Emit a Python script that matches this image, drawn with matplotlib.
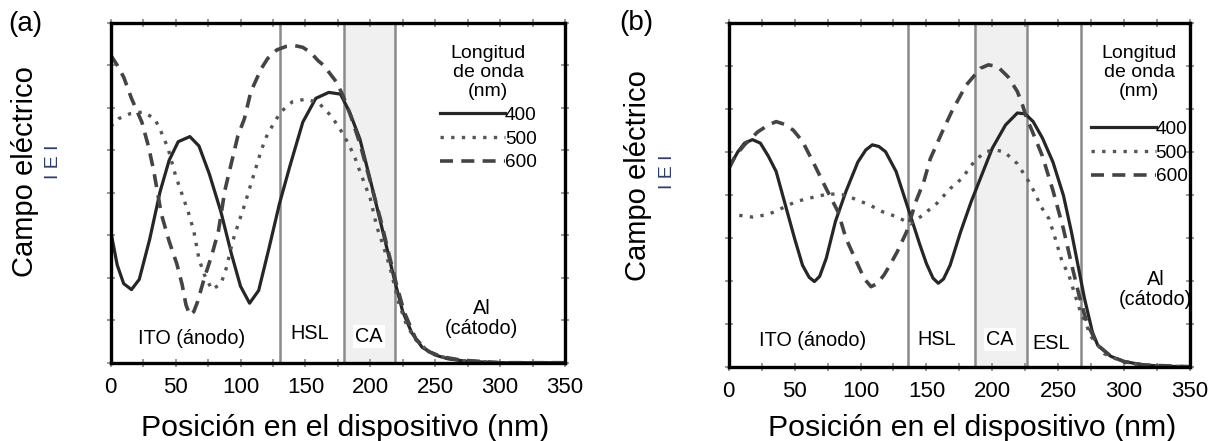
import matplotlib
matplotlib.use("Agg")
import matplotlib.pyplot as plt
from matplotlib.ticker import MultipleLocator, NullFormatter

plt.rcParams['font.family'] = ['Liberation Sans', 'DejaVu Sans']

# ---------------- data: panel (a) ----------------
a400_x = [0, 5, 10, 16, 22, 30, 38, 45, 52, 61, 68, 76, 85, 93, 100, 107, 114, 122, 130, 138,
          148, 158, 168, 177, 184, 192, 200, 207, 214, 219, 225, 232, 240, 250, 260, 275, 300, 350]
a400_y = [1.55, 1.15, 0.93, 0.86, 0.98, 1.45, 2.01, 2.38, 2.6, 2.66, 2.55, 2.22, 1.77, 1.28, 0.9,
          0.70, 0.85, 1.35, 1.87, 2.31, 2.83, 3.11, 3.18, 3.16, 2.95, 2.63, 2.15, 1.71, 1.27, 0.95,
          0.6, 0.35, 0.18, 0.09, 0.045, 0.015, 0.0, 0.0]

a500_x = [0, 6, 15, 25, 34, 39, 44, 50, 55, 60, 64, 68, 72, 78, 85, 89, 94, 98, 103, 108, 112,
          116, 120, 125, 131, 140, 150, 160, 170, 177, 183, 188, 192, 196, 200, 205, 209, 213, 216,
          222, 228, 235, 245, 255, 270, 300, 350]
a500_y = [2.78, 2.87, 2.93, 2.95, 2.87, 2.71, 2.53, 2.2, 1.98, 1.76, 1.55, 1.22, 1.04, 0.86, 0.93,
          1.11, 1.43, 1.62, 1.85, 2.1, 2.3, 2.5, 2.66, 2.8, 2.95, 3.07, 3.1, 3.06, 2.9, 2.74, 2.58,
          2.42, 2.25, 2.09, 1.93, 1.6, 1.42, 1.23, 1.07, 0.7, 0.44, 0.27, 0.13, 0.07, 0.025, 0, 0]

a600_x = [0, 5, 10, 16, 24, 29, 33, 39, 45, 51, 55, 58, 61, 64, 67, 72, 78, 83, 88, 93, 98, 103,
          108, 116, 121, 128, 135, 142, 148, 154, 160, 164, 169, 174, 179, 185, 192, 200, 208, 214,
          220, 226, 235, 245, 255, 270, 300, 350]
a600_y = [3.62, 3.5, 3.36, 3.11, 2.83, 2.55, 2.27, 1.75, 1.43, 1.16, 0.92, 0.68, 0.56, 0.6, 0.72,
          0.99, 1.27, 1.55, 2.03, 2.35, 2.67, 2.87, 3.19, 3.46, 3.58, 3.68, 3.72, 3.73, 3.71, 3.65,
          3.55, 3.5, 3.4, 3.3, 3.14, 2.9, 2.58, 2.13, 1.68, 1.3, 0.93, 0.6, 0.28, 0.13, 0.07, 0.03,
          0, 0]

a_bounds = [130.5, 179.5, 219]
a_layers = ["ITO (ánodo)", "HSL", "CA", "Al\n(cátodo)"]
a_layer_x = [62, 153, 199, 286]
a_layer_y = [0.28, 0.34, 0.31, 0.52]

# ---------------- data: panel (b) ----------------
b400_x = [0, 7, 12, 18, 24, 30, 36, 43, 50, 56, 61, 65, 69, 74, 81, 89, 98, 104, 109, 114, 119,
          127, 134, 141, 145, 150, 155, 159, 163, 168, 176, 184, 192, 200, 210, 219, 225, 231, 238,
          246, 254, 260, 265, 270, 276, 280, 290, 300, 315, 330, 350]
b400_y = [2.31, 2.5, 2.6, 2.64, 2.6, 2.45, 2.27, 1.88, 1.49, 1.18, 1.04, 0.99, 1.05, 1.26, 1.69,
          2.04, 2.38, 2.52, 2.58, 2.56, 2.5, 2.27, 1.94, 1.61, 1.42, 1.2, 1.03, 0.97, 1.02, 1.18,
          1.57, 1.92, 2.23, 2.54, 2.81, 2.95, 2.94, 2.85, 2.66, 2.38, 1.99, 1.57, 1.18, 0.79, 0.4,
          0.25, 0.12, 0.06, 0.02, 0.005, 0]

b500_x = [8, 18, 30, 40, 51, 64, 76, 86, 94, 107, 117, 128, 138, 147, 158, 168, 177, 187, 195,
          202, 209, 219, 227, 232, 237, 243, 247, 253, 258, 262, 266, 275, 285, 300, 315, 350]
b500_y = [1.76, 1.74, 1.77, 1.84, 1.92, 1.97, 2.01, 2.0, 1.96, 1.88, 1.8, 1.74, 1.66, 1.76, 1.9,
          2.07, 2.19, 2.4, 2.5, 2.52, 2.5, 2.36, 2.17, 2.03, 1.86, 1.72, 1.53, 1.22, 1.07, 0.87,
          0.68, 0.35, 0.15, 0.05, 0.015, 0]

b600_x = [0, 5, 12, 22, 30, 36, 42, 49, 56, 65, 74, 83, 89, 97, 103, 108, 113, 118, 123, 128, 135,
          142, 148, 153, 162, 169, 180, 191, 197, 204, 212, 219, 223, 226, 230, 238, 246, 254, 260,
          266, 272, 280, 290, 300, 315, 350]
b600_y = [2.3, 2.45, 2.58, 2.73, 2.81, 2.85, 2.82, 2.75, 2.62, 2.35, 2.07, 1.8, 1.49, 1.22, 1.02,
          0.93, 0.97, 1.07, 1.2, 1.34, 1.57, 1.92, 2.15, 2.42, 2.73, 2.96, 3.27, 3.47, 3.51, 3.49,
          3.37, 3.2, 3.04, 2.89, 2.75, 2.45, 2.05, 1.6, 1.2, 0.82, 0.5, 0.25, 0.12, 0.06, 0.02, 0]

b_bounds = [136, 186.5, 226.5, 267.5]
b_layers = ["ITO (ánodo)", "HSL", "CA", "ESL", "Al\n(cátodo)"]
b_layer_x = [64, 158, 206, 245, 324]
b_layer_y = [0.30, 0.32, 0.32, 0.27, 0.90]

wavelengths = ["400", "500", "600"]
xticks = [0, 50, 100, 150, 200, 250, 300, 350]

W, H = 1214, 441
fig = plt.figure(figsize=(W / 100, H / 100), dpi=100)


def px(x0, y0, x1, y1):
    return [x0 / W, 1 - y1 / H, (x1 - x0) / W, (y1 - y0) / H]


ax_a = fig.add_axes(px(110.7, 22.7, 565, 362.7))
ax_b = fig.add_axes(px(728.7, 22.7, 1190, 366.7))

styles = [
    dict(color='#262626', lw=2.3, ls='-'),
    dict(color='#555555', lw=2.4, ls=(0, (1.0, 2.2))),
    dict(color='#444444', lw=2.6, ls=(0, (3.6, 2.3))),
]


def draw(ax, series, bounds, layers, lx, ly, ca_idx, leg_anchor, sep):
    ax.axvspan(bounds[ca_idx], bounds[ca_idx + 1], color='#f0f0f0', zorder=0, lw=0)
    for b in bounds:
        ax.axvline(b, color='#8a8a8a', lw=1.8, zorder=1)
    handles = []
    for (xs, ys), st, lab in zip(series, styles, wavelengths):
        h, = ax.plot(xs, ys, label=lab, zorder=3, **st)
        handles.append(h)
    for s, x, y in zip(layers, lx, ly):
        kw = {}
        if s == "CA":
            kw['bbox'] = dict(facecolor='white', edgecolor='none', pad=1.5)
        ax.text(x, y, s, ha='center', va='center', fontsize=14.3, zorder=4,
                linespacing=1.1, **kw)
    ax.set_xlim(0, 350)
    ax.set_ylim(0, 4)
    ax.set_xticks(xticks)
    ax.set_xticklabels([str(t) for t in xticks])
    ax.xaxis.set_minor_locator(MultipleLocator(25))
    ax.yaxis.set_major_locator(MultipleLocator(1))
    ax.yaxis.set_minor_locator(MultipleLocator(0.5))
    ax.yaxis.set_major_formatter(NullFormatter())
    ax.tick_params(which='both', direction='inout', top=True, right=True, length=6,
                   width=1.4, color='#9a9a9a', labelsize=16, pad=7)
    for sp in ax.spines.values():
        sp.set_linewidth(2.4)
        sp.set_color('black')
        sp.set_zorder(5)
    leg = ax.legend(handles=handles, title="Longitud\nde onda\n(nm)", loc='upper left',
                    bbox_to_anchor=leg_anchor, frameon=False, handlelength=3.4,
                    handletextpad=0.0, labelspacing=0.33, borderpad=0, borderaxespad=0,
                    fontsize=13.7, title_fontsize=14)
    t = leg.get_title()
    t.set_linespacing(1.15)
    t.set_multialignment('center')
    leg._legend_box.sep = sep
    return leg


draw(ax_a, [(a400_x, a400_y), (a500_x, a500_y), (a600_x, a600_y)], a_bounds,
     a_layers, a_layer_x, a_layer_y, 1, (0.725, 0.935), 5)
draw(ax_b, [(b400_x, b400_y), (b500_x, b500_y), (b600_x, b600_y)], b_bounds,
     b_layers, b_layer_x, b_layer_y, 1, (0.785, 0.935), 15)

# axis labels and panel letters
fig.text(345 / W, 1 - 428 / H, "Posición en el dispositivo (nm)", ha='center', va='center',
         fontsize=21.8)
fig.text(972 / W, 1 - 428 / H, "Posición en el dispositivo (nm)", ha='center', va='center',
         fontsize=21.8)
fig.text(25 / W, 1 - 172 / H, "Campo eléctrico", rotation=90, ha='center', va='center',
         fontsize=21)
fig.text(54 / W, 1 - 162 / H, "I E I", rotation=90, ha='center', va='center',
         fontsize=14, color='#2e3d6b')
fig.text(638 / W, 1 - 176 / H, "Campo eléctrico", rotation=90, ha='center', va='center',
         fontsize=21)
fig.text(667 / W, 1 - 172 / H, "I E I", rotation=90, ha='center', va='center',
         fontsize=14, color='#2e3d6b')
fig.text(25 / W, 1 - 24 / H, "(a)", ha='center', va='center', fontsize=20)
fig.text(636 / W, 1 - 23 / H, "(b)", ha='center', va='center', fontsize=20)

fig.savefig("out.png", dpi=100)
